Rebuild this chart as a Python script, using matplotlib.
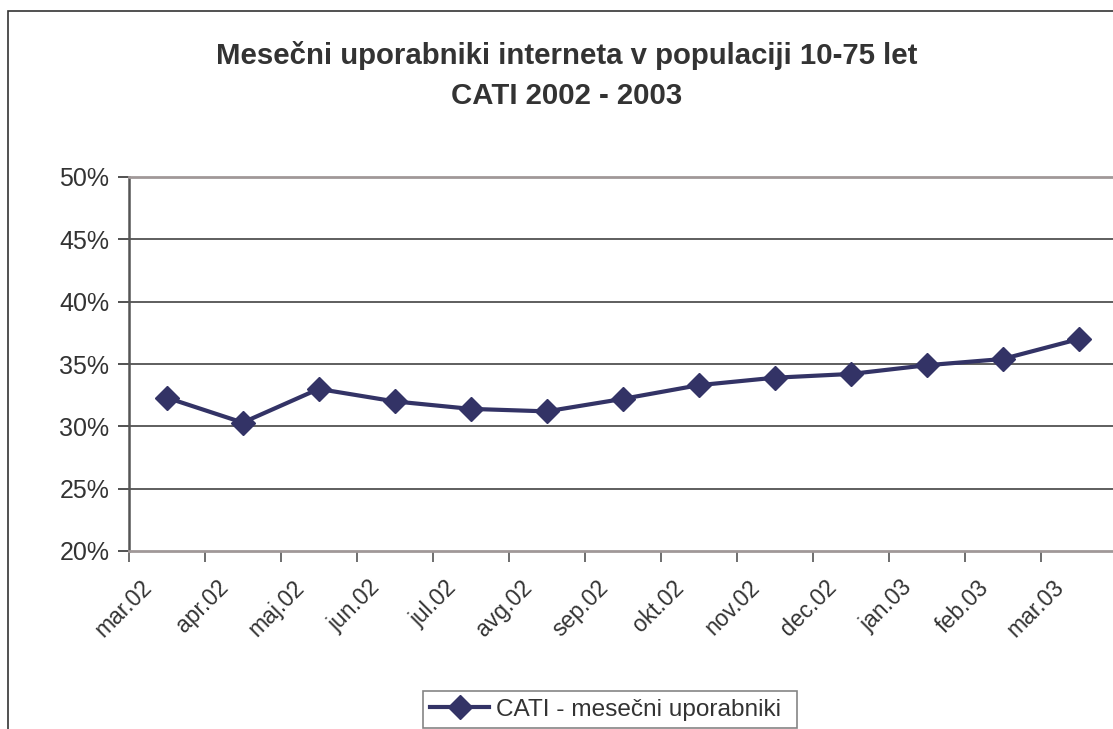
import matplotlib
matplotlib.use("Agg")
import matplotlib.pyplot as plt
from matplotlib.patches import Rectangle
from matplotlib.ticker import FixedLocator, NullFormatter, FuncFormatter
from matplotlib.transforms import ScaledTranslation, blended_transform_factory
import numpy as np

months = ["mar.02", "apr.02", "maj.02", "jun.02", "jul.02", "avg.02", "sep.02",
          "okt.02", "nov.02", "dec.02", "jan.03", "feb.03", "mar.03"]
values = [32.3, 30.3, 33.0, 32.0, 31.4, 31.2, 32.2, 33.3, 33.9, 34.2, 34.9, 35.4, 37.0]
y_ticks = [20, 25, 30, 35, 40, 45, 50]
series_name = "CATI - mesečni uporabniki"
title_lines = ["Mesečni uporabniki interneta v populaciji 10-75 let", "CATI 2002 - 2003"]

plt.rcParams['font.family'] = ['Liberation Sans', 'DejaVu Sans']
W, H = 1113, 729
fig = plt.figure(figsize=(W / 100, H / 100), dpi=100)
fig.patch.set_facecolor("white")

# outer chart border
fig.add_artist(Rectangle((8 / W, 0 - 0.05), 1.2, (H - 11) / H + 0.05,
                         transform=fig.transFigure, fill=False,
                         edgecolor="#333333", lw=1.2))

ax = fig.add_axes([128.7 / W, (H - 551) / H, 988 / W, 374 / H])
x = np.arange(len(months)) + 0.5
line_color = "#333366"
ax.plot(x, values, color=line_color, lw=3.0, marker="D", ms=12,
        markerfacecolor=line_color, markeredgecolor=line_color,
        label=series_name, zorder=5)

ax.set_xlim(0, len(months))
ax.set_ylim(20, 50)
ax.set_yticks(y_ticks)
ax.yaxis.set_major_formatter(FuncFormatter(lambda v, p: f"{int(v)}%"))
for yv in y_ticks[1:-1]:
    ax.axhline(yv, color="#333333", lw=1.1, zorder=1)

ax.xaxis.set_major_locator(FixedLocator(np.arange(len(months) + 1)))
ax.xaxis.set_major_formatter(NullFormatter())
ax.tick_params(axis="x", which="major", length=8, width=1.2, color="#555555")
ax.tick_params(axis="y", length=8, width=1.2, color="#333333",
               labelsize=18, labelcolor="#333333", pad=6)

# category labels, rotated 45 degrees
trans = blended_transform_factory(ax.transData, ax.transAxes) + \
    ScaledTranslation(-0.18, -0.33, fig.dpi_scale_trans)
for xi, m in zip(x, months):
    ax.text(xi, 0, m, transform=trans, rotation=45, rotation_mode="anchor",
            ha="right", va="center", fontsize=16.5, color="#333333",
            clip_on=False)

for s in ["top", "bottom"]:
    ax.spines[s].set_color("#a09898")
    ax.spines[s].set_linewidth(2.0)
ax.spines["left"].set_color("#555555")
ax.spines["left"].set_linewidth(1.8)
ax.spines["right"].set_visible(False)

for ty, txt in zip([56, 96], title_lines):
    fig.text(567 / W, 1 - ty / H, txt, ha="center", va="center",
             fontsize=21.2, fontweight="bold", color="#333333")

leg = fig.legend(loc="lower left", bbox_to_anchor=(423 / W, 1 / H, 374 / W, 46 / H),
                 mode="expand", fontsize=17.6, frameon=True, fancybox=False,
                 handlelength=2.4, handletextpad=0.3, borderpad=0.3,
                 borderaxespad=0)
leg.get_frame().set_edgecolor("#666666")
leg.get_frame().set_linewidth(1.2)
for t in leg.get_texts():
    t.set_color("#333333")

fig.savefig("out.png", dpi=100, facecolor="white")
